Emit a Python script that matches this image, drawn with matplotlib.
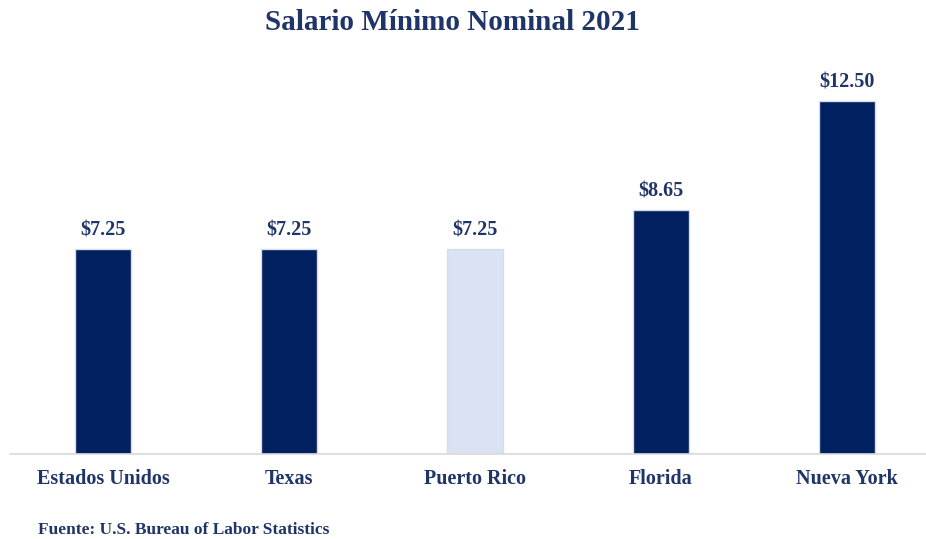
import matplotlib
matplotlib.use("Agg")
import matplotlib.pyplot as plt

categories = ["Estados Unidos", "Texas", "Puerto Rico", "Florida", "Nueva York"]
wages = [7.25, 7.25, 7.25, 8.65, 12.50]
labels = ["$7.25", "$7.25", "$7.25", "$8.65", "$12.50"]

navy = "#002060"
light = "#DAE3F3"
text_color = "#1F3468"
colors = [navy, navy, light, navy, navy]

plt.rcParams["font.family"] = ["Liberation Serif", "DejaVu Serif"]
plt.rcParams["font.weight"] = "bold"

fig = plt.figure(figsize=(9.26, 5.39), dpi=100)
ax = fig.add_axes([10 / 926, 1 - 454 / 539, 930 / 926, 395.4 / 539])

x = list(range(len(categories)))
ax.bar(x, wages, width=0.3, color=colors, edgecolor="#D6DCE8", linewidth=1.0)

for xi, v, lab in zip(x, wages, labels):
    ax.text(xi, v + 0.3, lab, ha="center", va="bottom", fontsize=14.5,
            fontweight="bold", color=text_color)

ax.set_xlim(-0.5, len(categories) - 0.5)
ax.set_ylim(0, 14)
ax.set_xticks(x)
ax.set_xticklabels(categories, fontsize=14.5, fontweight="bold", color=text_color)
ax.tick_params(axis="x", length=0, pad=11)
ax.set_yticks([])

for side in ["top", "right", "left"]:
    ax.spines[side].set_visible(False)
ax.spines["bottom"].set_color("#D9D9D9")
ax.spines["bottom"].set_linewidth(1.2)

fig.text(0.489, 1 - 22 / 539, "Salario Mínimo Nominal 2021", ha="center", va="center",
         fontsize=21, fontweight="bold", color=text_color)
fig.text(38 / 926, 1 - 530 / 539, "Fuente: U.S. Bureau of Labor Statistics", ha="left",
         va="center", fontsize=12.5, fontweight="bold", color=text_color)

fig.savefig("out.png", dpi=100)
